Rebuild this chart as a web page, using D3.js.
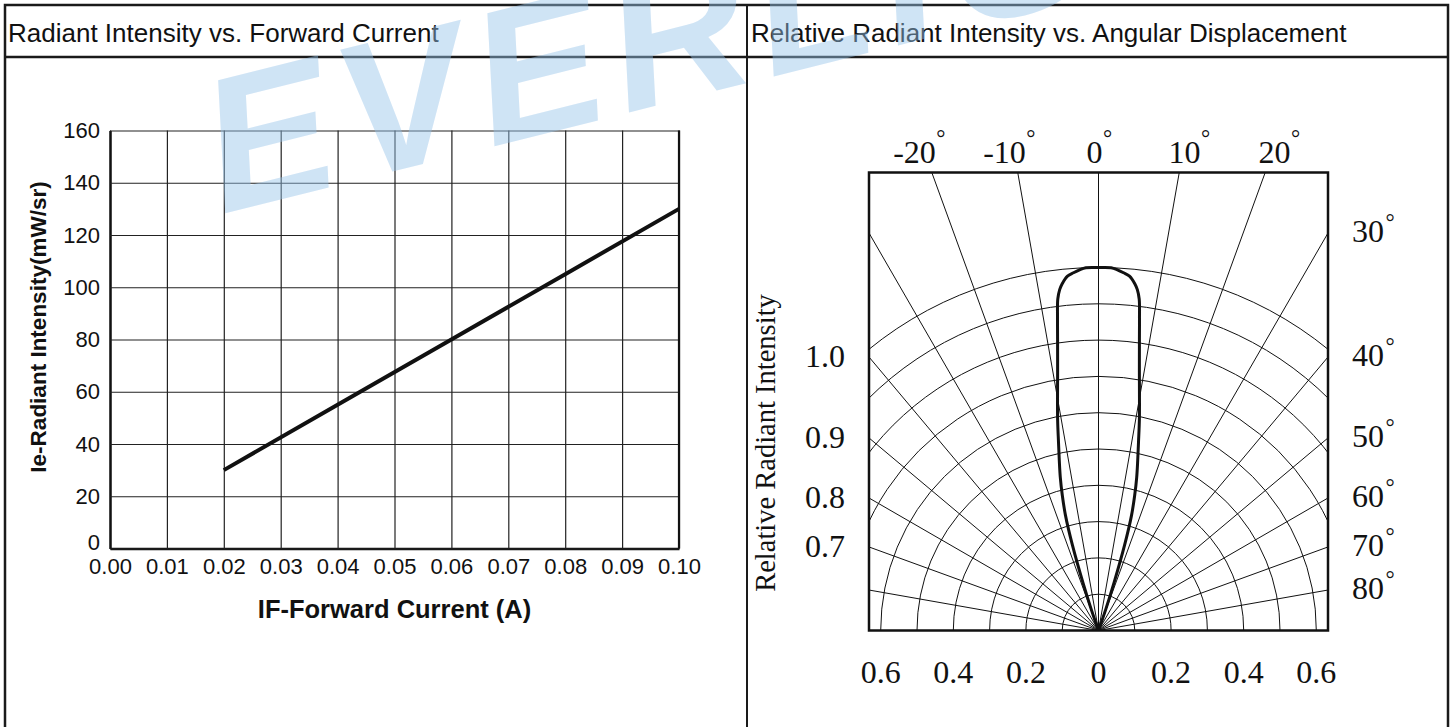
<!DOCTYPE html>
<html><head><meta charset="utf-8">
<script src="https://cdn.jsdelivr.net/npm/d3@7/dist/d3.min.js"></script>
<style>body{margin:0;background:#fff;} svg{display:block;}</style>
</head><body><svg id="c" width="1455" height="727"></svg>
<script>
// ---------- data ----------
const forwardCurrent = [0.02, 0.04, 0.06, 0.08, 0.10];
const radiantIntensity = [30, 55, 80, 105, 130];
const xTickValues = [0, 0.01, 0.02, 0.03, 0.04, 0.05, 0.06, 0.07, 0.08, 0.09, 0.10];
const yTickValues = [0, 20, 40, 60, 80, 100, 120, 140, 160];

const patternAngles = [-20,-19,-18,-17,-16,-15,-14,-13,-12,-11,-10,-9,-8,-7.5,-7,-6.5,-6,-5,-4,-3,-2,0,2,3,4,5,6,6.5,7,7.5,8,9,10,11,12,13,14,15,16,17,18,19,20];
const patternIntensity = [0,0.06,0.14,0.245,0.33,0.385,0.435,0.48,0.53,0.59,0.65,0.72,0.81,0.865,0.92,0.945,0.96,0.98,0.988,0.995,1.0,1.0,1.0,0.995,0.988,0.98,0.96,0.945,0.92,0.865,0.81,0.72,0.65,0.59,0.53,0.48,0.435,0.385,0.33,0.245,0.14,0.06,0];
const ringValues = [0.1,0.2,0.3,0.4,0.5,0.6,0.7,0.8,0.9,1.0];
const spokeAngles = [-80,-70,-60,-50,-40,-30,-20,-10,0,10,20,30,40,50,60,70,80];
const topAngleLabels = [-20,-10,0,10,20];
const sideAngleLabels = [30,40,50,60,70,80];
const leftScaleLabels = ["1.0","0.9","0.8","0.7"];
const leftScaleAngles = [40,50,60,70];
const bottomLabels = [-0.6,-0.4,-0.2,0,0.2,0.4,0.6];

const svg = d3.select("#c");
const SANS = "'Liberation Sans', Arial, sans-serif";
const SERIF = "'Liberation Serif', 'Times New Roman', serif";

// ---------- frame ----------
svg.append("rect").attr("x",5).attr("y",5).attr("width",1443).attr("height",735)
  .attr("fill","none").attr("stroke","#1a1a1a").attr("stroke-width",2.5);
svg.append("line").attr("x1",5).attr("x2",1448).attr("y1",57).attr("y2",57).attr("stroke","#1a1a1a").attr("stroke-width",2.5);
svg.append("line").attr("x1",747).attr("x2",747).attr("y1",5).attr("y2",727).attr("stroke","#1a1a1a").attr("stroke-width",2);
svg.append("text").attr("x",8).attr("y",42).attr("font-family",SANS).attr("font-size",26).attr("fill","#111")
  .text("Radiant Intensity vs. Forward Current");
svg.append("text").attr("x",751).attr("y",42).attr("font-family",SANS).attr("font-size",26).attr("fill","#111")
  .text("Relative Radiant Intensity vs. Angular Displacement");

// ---------- left chart ----------
const x = d3.scaleLinear().domain([0,0.1]).range([110,679]);
const y = d3.scaleLinear().domain([0,160]).range([548.5,130.5]);
const gL = svg.append("g");
const xAx = gL.append("g").attr("transform",`translate(0,${y(0)})`)
  .call(d3.axisBottom(x).tickValues(xTickValues).tickFormat(d3.format(".2f"))
    .tickSize(-(y(0)-y(160))).tickSizeOuter(0).tickPadding(10));
const yAx = gL.append("g").attr("transform",`translate(${x(0)},0)`)
  .call(d3.axisLeft(y).tickValues(yTickValues).tickFormat(d3.format("d"))
    .tickSize(-(x(0.1)-x(0))).tickSizeOuter(0).tickPadding(10));
[xAx,yAx].forEach(a=>{
  a.selectAll(".tick line").attr("stroke","#222").attr("stroke-width",1.2);
  a.selectAll(".tick text").attr("font-family",SANS).attr("font-size",22).attr("fill","#111");
  a.select(".domain").attr("stroke","#111").attr("stroke-width",2.5);
});
yAx.selectAll(".tick").filter(d=>d===0).select("text").attr("dy","0.05em");
gL.append("line").attr("x1",x(0.1)).attr("x2",x(0.1)).attr("y1",y(160)).attr("y2",y(0)).attr("stroke","#111").attr("stroke-width",2.2);
gL.append("path").datum(forwardCurrent.map((c,i)=>[c,radiantIntensity[i]]))
  .attr("d",d3.line().x(d=>x(d[0])).y(d=>y(d[1])))
  .attr("fill","none").attr("stroke","#111").attr("stroke-width",4);
gL.append("text").attr("x",(x(0)+x(0.1))/2).attr("y",618).attr("text-anchor","middle")
  .attr("font-family",SANS).attr("font-weight","bold").attr("font-size",25.5).attr("fill","#111")
  .text("IF-Forward Current (A)");
gL.append("text").attr("transform",`translate(46,327) rotate(-90)`).attr("text-anchor","middle")
  .attr("font-family",SANS).attr("font-weight","bold").attr("font-size",22.5).attr("fill","#111")
  .text("Ie-Radiant Intensity(mW/sr)");

// ---------- polar chart ----------
const cx = 1098.5, cy = 630.5, halfW = 229.5, topY = 172.5;
const r = d3.scaleLinear().domain([0,1]).range([0,363]);
const rad = d => d*Math.PI/180;
svg.append("clipPath").attr("id","pclip").append("rect")
  .attr("x",cx-halfW).attr("y",topY).attr("width",2*halfW).attr("height",cy-topY);
const gP = svg.append("g");
const grid = gP.append("g").attr("clip-path","url(#pclip)");
grid.selectAll("circle.ring").data(ringValues).join("circle").attr("class","ring")
  .attr("cx",cx).attr("cy",cy).attr("r",d=>r(d)).attr("fill","none").attr("stroke","#111").attr("stroke-width",1);
grid.selectAll("line.spoke").data(spokeAngles).join("line").attr("class","spoke")
  .attr("x1",cx).attr("y1",cy)
  .attr("x2",d=>cx+800*Math.sin(rad(d))).attr("y2",d=>cy-800*Math.cos(rad(d)))
  .attr("stroke","#111").attr("stroke-width",1);
gP.append("path").datum(patternAngles.map((a,i)=>[a,patternIntensity[i]]))
  .attr("transform",`translate(${cx},${cy})`)
  .attr("d",d3.lineRadial().angle(d=>rad(d[0])).radius(d=>r(d[1])).curve(d3.curveCatmullRom.alpha(0.5)))
  .attr("fill","none").attr("stroke","#111").attr("stroke-width",3);
gP.append("rect").attr("x",cx-halfW).attr("y",topY).attr("width",2*halfW).attr("height",cy-topY)
  .attr("fill","none").attr("stroke","#111").attr("stroke-width",2.5);

const topX = d3.scaleLinear().domain([-20,20]).range([cx-184,cx+176]);
const topTexts = gP.selectAll("text.top").data(topAngleLabels).join("text").attr("class","top")
  .attr("x",d=>topX(d)).attr("y",163).attr("text-anchor","middle")
  .attr("font-family",SERIF).attr("font-size",32).attr("fill","#111").text(d=>String(d));
topTexts.each(function(d){
  const b = this.getBBox();
  gP.append("text").attr("x",b.x+b.width+0.5).attr("y",146)
    .attr("font-family",SERIF).attr("font-size",23).attr("fill","#111").text("°");
});
const sideY = a => cy - halfW/Math.tan(rad(a)) + 9;
const sideTexts = gP.selectAll("text.side").data(sideAngleLabels).join("text").attr("class","side")
  .attr("x",1352).attr("y",d=>sideY(d))
  .attr("font-family",SERIF).attr("font-size",32).attr("fill","#111").text(d=>String(d));
sideTexts.each(function(d){
  const b = this.getBBox();
  gP.append("text").attr("x",b.x+b.width+1.5).attr("y",sideY(d)-12)
    .attr("font-family",SERIF).attr("font-size",23).attr("fill","#111").text("°");
});
gP.selectAll("text.lscale").data(leftScaleLabels).join("text").attr("class","lscale")
  .attr("x",845).attr("y",(d,i)=>sideY(leftScaleAngles[i])+1).attr("text-anchor","end")
  .attr("font-family",SERIF).attr("font-size",32).attr("fill","#111").text(d=>d);
gP.selectAll("text.bot").data(bottomLabels).join("text").attr("class","bot")
  .attr("x",d=>cx+Math.sign(d)*r(Math.abs(d))).attr("y",683).attr("text-anchor","middle")
  .attr("font-family",SERIF).attr("font-size",32).attr("fill","#111")
  .text(d=>d===0?"0":Math.abs(d).toFixed(1));
gP.append("text").attr("transform",`translate(775,443) rotate(-90)`).attr("text-anchor","middle")
  .attr("font-family",SERIF).attr("font-size",28.5).attr("fill","#111")
  .text("Relative Radiant Intensity");

// ---------- watermark ----------
svg.append("text").attr("transform","translate(222,214) rotate(-14)")
  .attr("font-family",SANS).attr("font-weight","bold").attr("font-style","italic")
  .attr("font-size",190).attr("letter-spacing",12).attr("fill","rgb(150,196,235)").attr("opacity",0.45)
  .text("EVERLIGHT");
</script></body></html>
